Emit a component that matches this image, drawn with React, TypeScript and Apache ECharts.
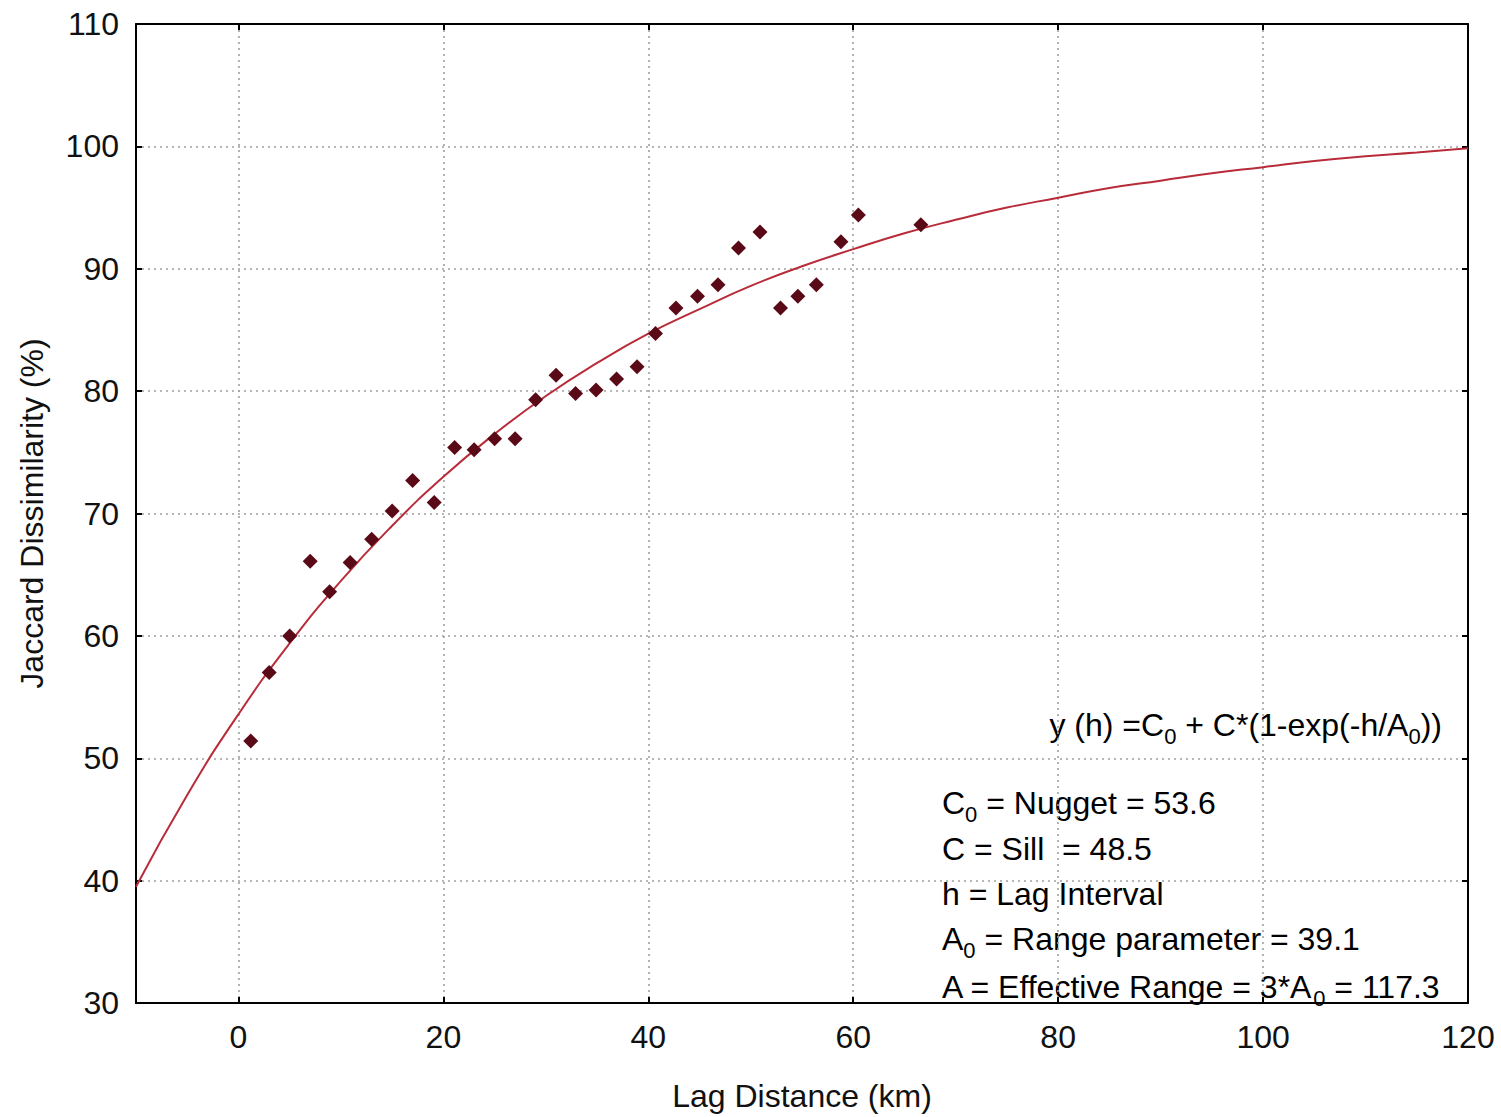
import React, { useEffect, useRef } from "react";
import * as echarts from "echarts";

const lagKm = [1.2, 3.0, 5.0, 7.0, 8.9, 10.9, 13.0, 15.0, 17.0, 19.1, 21.1, 23.0, 25.0, 27.0, 29.0, 31.0, 32.9, 34.9, 36.9, 38.9, 40.7, 42.7, 44.8, 46.8, 48.8, 50.9, 52.9, 54.6, 56.4, 58.8, 60.5, 66.6];
const dissim = [51.4, 57.0, 60.0, 66.1, 63.6, 66.0, 67.9, 70.2, 72.7, 70.9, 75.4, 75.2, 76.1, 76.1, 79.3, 81.3, 79.8, 80.1, 81.0, 82.0, 84.7, 86.8, 87.75, 88.7, 91.7, 93.0, 86.8, 87.75, 88.7, 92.2, 94.4, 93.6];

// Fitted model curve: values were computed from the fitted parameters printed on the chart
// (C0 = 53.6, C = 48.5, A0 = 39.1) and spot-checked against the drawn line (agree within ~0.3).
const curveX = [-10, -5, 0, 5, 10, 15, 20, 25, 30, 35, 40, 45, 50, 55, 60, 65, 70, 75, 80, 85, 90, 95, 100, 105, 110, 115, 120];
const curveY = [39.5, 47.0, 53.6, 59.4, 64.5, 69.0, 73.0, 76.5, 79.6, 82.3, 84.7, 86.7, 88.6, 90.2, 91.6, 92.9, 94.0, 95.0, 95.8, 96.6, 97.2, 97.8, 98.3, 98.8, 99.2, 99.5, 99.85];

const xMin = -10;
const xMax = 120;
const yMin = 30;
const yMax = 110;
const yStep = 10;

const xTitle = "Lag Distance (km)";
const yTitle = "Jaccard Dissimilarity (%)";

const FONT = "Liberation Sans, Arial, sans-serif";
const FS = 32;

export default function App() {
  const ref = useRef<HTMLDivElement>(null);
  useEffect(() => {
    if (!ref.current) return;
    const chart = echarts.init(ref.current, undefined, { renderer: "svg" });
    const axisLine = { show: true, onZero: false, lineStyle: { color: "#000", width: 2 } };
    const tick = { show: true, inside: true, length: 6, lineStyle: { color: "#000", width: 2 } };
    const split = { show: true, lineStyle: { color: "#a0a0a0", type: [2, 4], width: 1.6 } };
    const labelStyle = { fontFamily: FONT, fontSize: FS, color: "#111" };
    const rich = {
      n: { fontFamily: FONT, fontSize: FS, color: "#111", lineHeight: 42 },
      s: { fontFamily: FONT, fontSize: 22, color: "#111", lineHeight: 22, padding: [22, 0, 0, 0] },
    };
    const noteLines = [
      "{n|C}{s|0}{n| = Nugget = 53.6}",
      "{n|C = Sill  = 48.5}",
      "{n|h = Lag Interval}",
      "{n|A}{s|0}{n| = Range parameter = 39.1}",
      "{n|A = Effective Range = 3*A}{s|0}{n| = 117.3}",
    ];
    const noteY = [802, 854, 899, 938, 986];
    chart.setOption({
      animation: false,
      backgroundColor: "#fff",
      grid: { left: 136, top: 24, right: 33, bottom: 113, show: false },
      xAxis: [
        {
          type: "value", min: xMin, max: xMax, splitNumber: 7, minInterval: 20, maxInterval: 20,
          position: "bottom",
          axisLine, axisTick: tick, splitLine: split,
          axisLabel: { ...labelStyle, margin: 18, formatter: (v: number) => (v === xMin ? "" : String(v)) },
          name: xTitle, nameLocation: "middle", nameGap: 77,
          nameTextStyle: { fontFamily: FONT, fontSize: FS, color: "#111" },
        },
        {
          type: "value", min: xMin, max: xMax, splitNumber: 7, minInterval: 20, maxInterval: 20,
          position: "top",
          axisLine, axisTick: tick, splitLine: { show: false }, axisLabel: { show: false },
        },
      ],
      yAxis: [
        {
          type: "value", min: yMin, max: yMax, interval: yStep,
          position: "left",
          axisLine, axisTick: tick, splitLine: split,
          axisLabel: { ...labelStyle, margin: 17 },
          name: yTitle, nameLocation: "middle", nameGap: 88,
          nameTextStyle: { fontFamily: FONT, fontSize: FS, color: "#111" },
        },
        {
          type: "value", min: yMin, max: yMax, interval: yStep,
          position: "right",
          axisLine, axisTick: tick, splitLine: { show: false }, axisLabel: { show: false },
        },
      ],
      series: [
        {
          type: "line",
          data: curveX.map((x, i) => [x, curveY[i]]),
          smooth: true,
          showSymbol: false,
          lineStyle: { color: "#b82c3a", width: 2 },
          z: 2,
        },
        {
          type: "scatter",
          data: lagKm.map((x, i) => [x, dissim[i]]),
          symbol: "diamond",
          symbolSize: 15,
          itemStyle: { color: "#5a0a16", opacity: 1 },
          z: 3,
        },
      ],
      graphic: [
        {
          type: "text",
          right: 1501 - 1442,
          top: 703,
          style: { text: "{n|y (h) =C}{s|0}{n| + C*(1-exp(-h/A}{s|0}{n|))}", rich },
        },
        ...noteLines.map((t, i) => ({
          type: "text",
          left: 942,
          top: noteY[i] - 21,
          style: { text: t, rich },
        })),
      ],
    });
    return () => chart.dispose();
  }, []);
  return <div ref={ref} style={{ position: "fixed", left: 0, top: 0, width: 1501, height: 1117 }} />;
}
